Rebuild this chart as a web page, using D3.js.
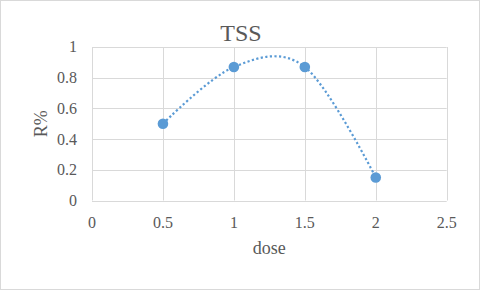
<!DOCTYPE html>
<html>
<head>
  <meta charset="UTF-8">
  <title>TSS</title>
  <script src="https://d3js.org/d3.v7.min.js"></script>
  <style>
    body { margin: 0; background: #fff; }
    svg text { font-family: "Times New Roman", "Liberation Serif", "DejaVu Serif", serif; fill: #595959; }
  </style>
</head>
<body>
  <svg></svg>
<script>
  let width = 480,
    height = 291;

  // data
  let doses = [0.5, 1, 1.5, 2];
  let rValues = [0.5, 0.87, 0.87, 0.15];
  let xTicks = [0, 0.5, 1, 1.5, 2, 2.5];
  let yTicks = [0, 0.2, 0.4, 0.6, 0.8, 1];

  let points = doses.map((d, i) => ({ x: d, y: rValues[i] }));

  let svg = d3.select("svg")
    .attr("width", width)
    .attr("height", height);

  // outer chart border
  svg.append("rect")
    .attr("x", 0.5).attr("y", 0.5)
    .attr("width", width - 1).attr("height", height - 2)
    .attr("fill", "#fff")
    .attr("stroke", "#d9d9d9");

  let x = d3.scaleLinear().domain([0, 2.5]).range([92, 446.7]);
  let y = d3.scaleLinear().domain([0, 1]).range([200.5, 47]);

  // gridlines
  svg.append("g")
    .selectAll("line.h")
    .data(yTicks)
    .enter()
    .append("line")
    .attr("x1", x(0)).attr("x2", x(2.5))
    .attr("y1", d => Math.round(y(d)) + 0.5)
    .attr("y2", d => Math.round(y(d)) + 0.5)
    .attr("stroke", "#d9d9d9");

  svg.append("g")
    .selectAll("line.v")
    .data(xTicks)
    .enter()
    .append("line")
    .attr("y1", y(0)).attr("y2", y(1))
    .attr("x1", d => Math.round(x(d)) + 0.5)
    .attr("x2", d => Math.round(x(d)) + 0.5)
    .attr("stroke", "#d9d9d9");

  // tick labels
  svg.append("g")
    .selectAll("text")
    .data(yTicks)
    .enter()
    .append("text")
    .attr("x", 77)
    .attr("y", d => y(d))
    .attr("dy", "0.34em")
    .attr("text-anchor", "end")
    .style("font-size", "16px")
    .text(d => d);

  svg.append("g")
    .selectAll("text")
    .data(xTicks)
    .enter()
    .append("text")
    .attr("x", d => x(d))
    .attr("y", 227.5)
    .attr("text-anchor", "middle")
    .style("font-size", "16px")
    .text(d => d);

  // smoothed dotted line
  let line = d3.line()
    .x(d => x(d.x))
    .y(d => y(d.y))
    .curve(d3.curveCardinal.tension(0));

  svg.append("path")
    .datum(points)
    .attr("d", line)
    .attr("fill", "none")
    .attr("stroke", "#5b9bd5")
    .attr("stroke-width", 2.2)
    .attr("stroke-dasharray", "2.2,2.4");

  svg.append("g")
    .selectAll("circle")
    .data(points)
    .enter()
    .append("circle")
    .attr("cx", d => x(d.x))
    .attr("cy", d => y(d.y))
    .attr("r", 5.3)
    .attr("fill", "#5b9bd5");

  // titles
  svg.append("text")
    .attr("x", 241)
    .attr("y", 40.5)
    .attr("text-anchor", "middle")
    .style("font-size", "24px")
    .text("TSS");

  svg.append("text")
    .attr("x", (x(0) + x(2.5)) / 2)
    .attr("y", 254)
    .attr("text-anchor", "middle")
    .style("font-size", "18px")
    .text("dose");

  svg.append("text")
    .attr("transform", "translate(46.5," + (y(0) + y(1)) / 2 + ") rotate(-90)")
    .attr("text-anchor", "middle")
    .style("font-size", "18px")
    .text("R%");
</script>
</body>
</html>
